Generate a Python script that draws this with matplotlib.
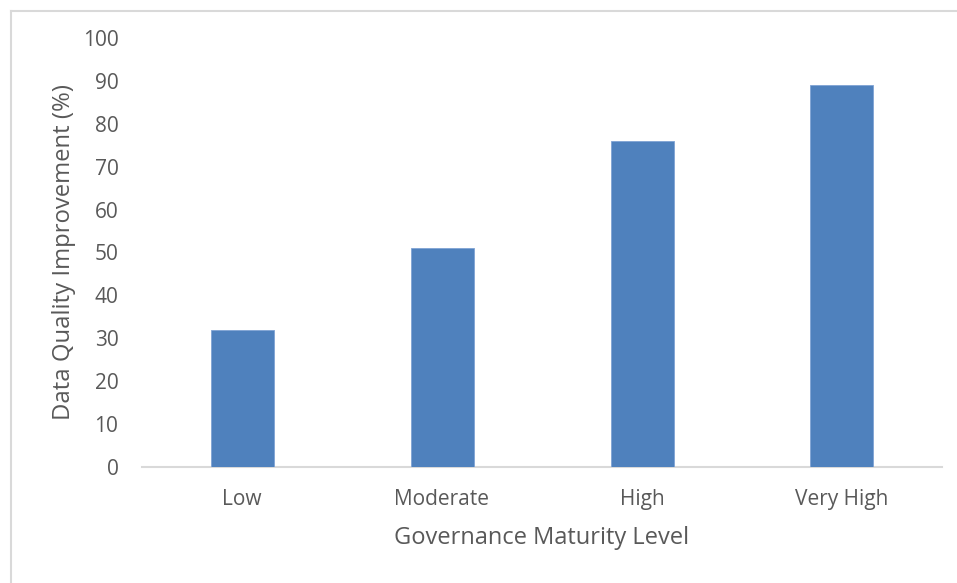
import matplotlib
matplotlib.use("Agg")
import matplotlib.pyplot as plt
from matplotlib.lines import Line2D

categories = ["Low", "Moderate", "High", "Very High"]
values = [32, 51, 76, 89]
yticks = [0, 10, 20, 30, 40, 50, 60, 70, 80, 90, 100]

plt.rcParams['font.family'] = ['Open Sans', 'DejaVu Sans']
text_color = "#595959"

W, H = 957, 583
fig = plt.figure(figsize=(W / 100, H / 100), dpi=100)
fig.patch.set_facecolor("white")

# axes: x 142..942, y 38..467 (pixels from top)
left, right, top, bottom = 142, 942, 38, 467
ax = fig.add_axes([left / W, 1 - bottom / H, (right - left) / W, (bottom - top) / H])

x = range(len(categories))
ax.bar(x, values, width=0.315, color="#4f81bd", edgecolor="#7fa3d4", linewidth=0.6, zorder=3)

ax.set_xlim(-0.5, len(categories) - 0.5)
ax.set_ylim(0, 100)
ax.set_yticks(yticks)
ax.set_xticks(list(x))
ax.set_xticklabels(categories)

for s in ["top", "right", "left"]:
    ax.spines[s].set_visible(False)
ax.spines["bottom"].set_color("#d9d9d9")
ax.spines["bottom"].set_linewidth(1.5)

ax.tick_params(axis="both", length=0, colors=text_color, labelsize=15)
ax.tick_params(axis="y", pad=17)
ax.tick_params(axis="x", pad=16)

ax.set_xlabel("Governance Maturity Level", fontsize=17, color=text_color, labelpad=11)
ax.set_ylabel("Data Quality Improvement (%)", fontsize=17.2, color=text_color, labelpad=5)

# chart border (top and left visible, rest clipped)
fig.add_artist(Line2D([10.5 / W, 1.0], [1 - 10.5 / H, 1 - 10.5 / H], transform=fig.transFigure,
                      color="#d9d9d9", linewidth=1.5))
fig.add_artist(Line2D([10.5 / W, 10.5 / W], [0, 1 - 10.5 / H], transform=fig.transFigure,
                      color="#d9d9d9", linewidth=1.5))

fig.savefig("out.png", dpi=100, facecolor="white")
